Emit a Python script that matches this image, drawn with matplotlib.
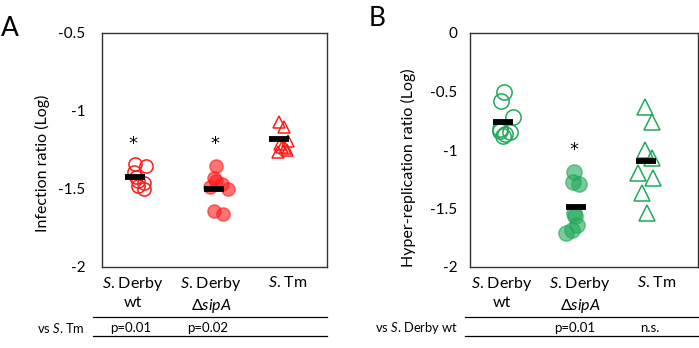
import matplotlib
matplotlib.use("Agg")
import matplotlib.pyplot as plt
from matplotlib.lines import Line2D

plt.rcParams['font.family'] = ['Lato', 'DejaVu Sans']
plt.rcParams['mathtext.fontset'] = 'custom'
plt.rcParams['mathtext.rm'] = 'Lato'
plt.rcParams['mathtext.it'] = 'Lato:italic'

W, H = 699, 348
RED = '#ff1a1a'
GREEN = '#22a85a'

categories = [r'$\it{S}$. Derby' + '\nwt', r'$\it{S}$. Derby' + '\n' + r'$\Delta\it{sipA}$', r'$\it{S}$. Tm']

# panel A - infection ratio (log)
a_wt_x = [0.94, 1.087, 0.927, 0.953, 0.98, 0.98, 1.06, 1.06]
a_wt_y = [-1.34, -1.35, -1.39, -1.42, -1.45, -1.48, -1.50, -1.46]
a_sip_x = [2.02, 1.997, 2.016, 2.096, 2.176, 1.94, 1.993, 2.117]
a_sip_y = [-1.35, -1.43, -1.45, -1.47, -1.50, -1.49, -1.64, -1.66]
a_tm_x = [2.86, 2.93, 2.98, 2.873, 2.94, 2.85, 2.96, 2.896]
a_tm_y = [-1.07, -1.10, -1.19, -1.21, -1.24, -1.26, -1.25, -1.23]
a_mean_x = [0.94, 1.99, 2.86]
a_mean_y = [-1.42, -1.50, -1.18]
a_star_x = [0.91, 2.01]
a_star_y = [-1.21, -1.21]
a_tick_x = [0.913, 1.953, 2.98]
a_pvals = ['p=0.01', 'p=0.02', '']

# panel B - hyper-replication ratio (log)
b_wt_x = [0.951, 0.904, 1.07, 0.895, 1.026, 0.93, 0.895, 0.96]
b_wt_y = [-0.50, -0.58, -0.72, -0.82, -0.85, -0.88, -0.84, -0.86]
b_sip_x = [1.868, 1.851, 1.938, 1.868, 1.882, 1.904, 1.838, 1.763]
b_sip_y = [-1.19, -1.27, -1.29, -1.54, -1.56, -1.64, -1.68, -1.71]
b_tm_x = [2.80, 2.90, 2.80, 2.89, 2.71, 2.91, 2.76, 2.825]
b_tm_y = [-0.635, -0.763, -1.0, -1.071, -1.199, -1.242, -1.37, -1.541]
b_mean_x = [0.934, 1.895, 2.816]
b_mean_y = [-0.76, -1.485, -1.094]
b_star_x = [1.868]
b_star_y = [-1.0]
b_tick_x = [0.921, 1.947, 2.96]
b_pvals = ['', 'p=0.01', 'n.s.']


def box(l, t, r, b):
    return [l / W, (H - b) / H, (r - l) / W, (b - t) / H]


fig = plt.figure(figsize=(W / 100, H / 100), dpi=100)


def panel(rect, color, wt, sip, tm, means, stars, ticks, ylim, yticks, ms_c, ms_t, pad):
    ax = fig.add_axes(rect)
    ax.set_xlim(0.5, 3.5)
    ax.set_ylim(*ylim)
    ax.plot(wt[0], wt[1], 'o', ms=ms_c, mfc='none', mec=color, mew=1.1, ls='none')
    ax.plot(sip[0], sip[1], 'o', ms=ms_c, mfc=color, mec=color, alpha=0.6, mew=1.1, ls='none')
    ax.plot(tm[0], tm[1], '^', ms=ms_t, mfc='none', mec=color, mew=1.1, ls='none')
    for mx, my in zip(*means):
        ax.plot([mx - 0.135, mx + 0.135], [my, my], color='black', lw=4.2, solid_capstyle='butt')
    for sx, sy in zip(*stars):
        ax.text(sx, sy, '*', ha='center', va='center', fontsize=13, family='DejaVu Sans')
    ax.set_yticks(yticks)
    ax.set_yticklabels(['%g' % v for v in yticks], fontsize=11)
    ax.set_xticks(ticks)
    ax.set_xticklabels(categories, fontsize=11.5, linespacing=1.25, va='top')
    ax.tick_params(axis='both', length=0)
    ax.tick_params(axis='y', pad=pad)
    ax.tick_params(axis='x', pad=6)
    for s in ax.spines.values():
        s.set_linewidth(1.0)
        s.set_color('#333333')
    return ax


axA = panel(box(102, 33, 327, 267), RED, (a_wt_x, a_wt_y), (a_sip_x, a_sip_y), (a_tm_x, a_tm_y),
            (a_mean_x, a_mean_y), (a_star_x, a_star_y), a_tick_x, (-2, -0.5),
            [-2, -1.5, -1, -0.5], 9.5, 8.5, 12)
axB = panel(box(470, 33, 698, 267), GREEN, (b_wt_x, b_wt_y), (b_sip_x, b_sip_y), (b_tm_x, b_tm_y),
            (b_mean_x, b_mean_y), (b_star_x, b_star_y), b_tick_x, (-2, 0),
            [-2, -1.5, -1, -0.5, 0], 11, 11, 9)

fig.text(42 / W, 1 - 163 / H, 'Infection ratio (Log)', rotation=90, ha='center', va='center', fontsize=11.5)
fig.text(408 / W, 1 - 168 / H, 'Hyper-replication ratio (Log)', rotation=90, ha='center', va='center', fontsize=11.5)
fig.text(10 / W, 1 - 28 / H, 'A', ha='center', va='center', fontsize=19)
fig.text(377 / W, 1 - 18 / H, 'B', ha='center', va='center', fontsize=19)

# comparison rows under each panel
for x0, x1 in [(93, 327), (465, 698)]:
    for yy in (317, 336):
        fig.add_artist(Line2D([x0 / W, x1 / W], [1 - yy / H, 1 - yy / H], color='black', lw=0.9))

fig.text(85 / W, 1 - 328 / H, r'vs $\it{S}$. Tm', ha='right', va='center', fontsize=9.3)
fig.text(458 / W, 1 - 328 / H, r'vs $\it{S}$. Derby wt', ha='right', va='center', fontsize=9.3)
for px, lab in zip([131, 208, 290], a_pvals):
    fig.text(px / W, 1 - 328 / H, lab, ha='center', va='center', fontsize=9.5)
for px, lab in zip([575, 650], b_pvals[1:]):
    fig.text(px / W, 1 - 328 / H, lab, ha='center', va='center', fontsize=9.5)

fig.savefig('out.png', dpi=100)
